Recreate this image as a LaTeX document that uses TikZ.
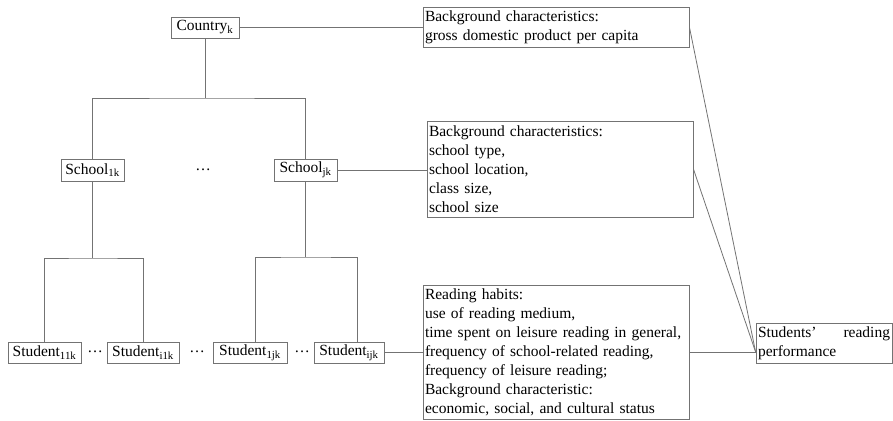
\documentclass[tikz,border=0pt]{standalone}
\usepackage{fontspec}
\setmainfont{Liberation Serif}
\definecolor{linegray}{RGB}{115,115,115}
\begin{document}
\begin{tikzpicture}[x=1pt,y=-1pt,
  every node/.style={font=\fontsize{15.5}{19}\selectfont},
  lbl/.style={draw=linegray,line width=0.8pt,inner sep=2pt,minimum height=21pt},
  txtbox/.style={draw=linegray,line width=0.8pt,inner sep=2pt,align=left},
  conn/.style={draw=linegray,line width=0.8pt},
  dotsnode/.style={inner sep=0pt}]
\useasboundingbox (0,0) rectangle (893,420);
% nodes
\node[lbl,minimum width=68pt] (country) at (205,27.5) {Country\textsubscript{k}};
\node[txtbox,text width=262pt,minimum height=40pt] (bg1) at (556,27) {Background characteristics:\\gross domestic product per capita};
\node[lbl,minimum width=63pt,minimum height=22pt] (school1) at (92.5,170) {School\textsubscript{1k}};
\node[dotsnode] (d0) at (203,170) {…};
\node[lbl,minimum width=63pt,minimum height=22pt] (schoolj) at (305.5,170) {School\textsubscript{jk}};
\node[txtbox,text width=262pt,minimum height=96pt] (bg2) at (560,169) {Background characteristics:\\school type,\\school location,\\class size,\\school size};
\node[lbl,minimum width=73pt] (st11) at (44.5,352.5) {Student\textsubscript{11k}};
\node[dotsnode] (d1) at (95,352) {…};
\node[lbl,minimum width=72pt] (sti1) at (143,352.5) {Student\textsubscript{i1k}};
\node[dotsnode] (d2) at (197,352) {…};
\node[lbl,minimum width=74pt] (st1j) at (250,352.5) {Student\textsubscript{1jk}};
\node[dotsnode] (d3) at (302,352) {…};
\node[lbl,minimum width=70pt] (stij) at (349,352.5) {Student\textsubscript{ijk}};
\node[txtbox,text width=262pt,minimum height=134pt] (bg3) at (556,352) {Reading habits:\\use of reading medium,\\time spent on leisure reading in general,\\frequency of school-related reading,\\frequency of leisure reading;\\Background characteristic:\\economic, social, and cultural status};
\node[txtbox,text width=132pt,minimum height=40pt] (srp) at (824,343) {Students’\hfill reading\\performance};
% coordinates
\coordinate (b1) at (205,98);
\coordinate (b2) at (92.5,258);
\coordinate (b3) at (305.5,257);
\coordinate (conv) at ([yshift=-9pt]srp.west);
% tree
\draw[conn] (country.south) -- (b1);
\draw[conn] (school1.north) |- (b1) -| (schoolj.north);
\draw[conn] (school1.south) -- (b2);
\draw[conn] (st11.north) |- (b2) -| (sti1.north);
\draw[conn] (schoolj.south) -- (b3);
\draw[conn] ([xshift=5pt]st1j.north) |- (b3) -| ([xshift=8pt]stij.north);
% side links
\draw[conn] (country.east) -- (country.east -| bg1.west);
\draw[conn] (schoolj.east) -- (schoolj.east -| bg2.west);
\draw[conn] (stij.east) -- (stij.east -| bg3.west);
\draw[conn] (bg1.east) -- (conv);
\draw[conn] (bg2.east) -- (conv);
\draw[conn] (bg3.east) -- (conv);
\end{tikzpicture}
\end{document}
